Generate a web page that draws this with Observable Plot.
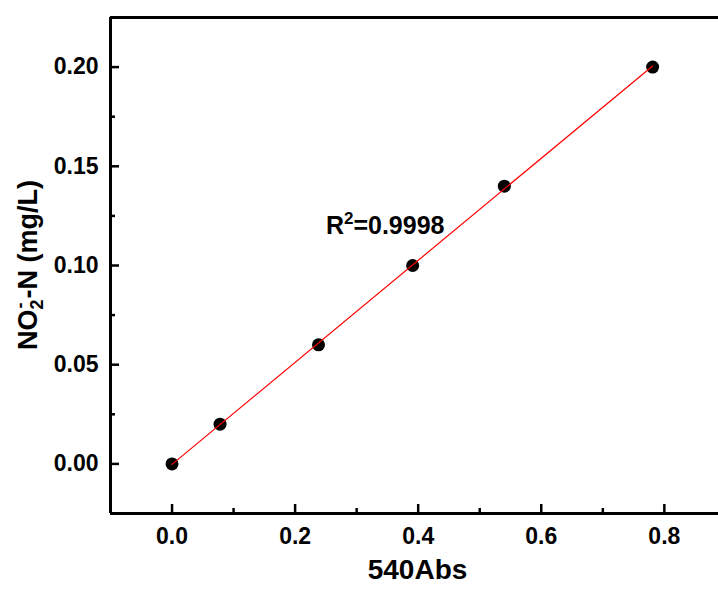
<!DOCTYPE html>
<html>
<head>
<meta charset="utf-8">
<script src="https://cdn.jsdelivr.net/npm/d3@7"></script>
<script src="https://cdn.jsdelivr.net/npm/@observablehq/plot@0.6"></script>
<style>
  html, body { margin: 0; padding: 0; background: #fff; }
  #chart svg { display: block; }
</style>
</head>
<body>
<div id="chart"></div>
<script>
// ---- data ----
const absorbance = [0, 0.078, 0.238, 0.391, 0.540, 0.781];
const concentration = [0, 0.02, 0.06, 0.10, 0.14, 0.20];

const xMajorTicks = [0, 0.2, 0.4, 0.6, 0.8];
const xMinorTicks = [0.1, 0.3, 0.5, 0.7];
const yMajorTicks = [0, 0.05, 0.10, 0.15, 0.20];
const yMinorTicks = [0.025, 0.075, 0.125, 0.175];

const xDomain = [-0.1, 0.888];
const yDomain = [-0.025, 0.225];

const xLabel = ["540Abs"];
const yLabelParts = ["NO", "2", "-", "-N (mg/L)"];
const annotation = [{x: 0.25, y: 0.12, base: "R", sup: "2", rest: "=0.9998"}];

const points = absorbance.map((a, i) => ({abs: a, conc: concentration[i]}));

const font = "'Liberation Sans', Arial, Helvetica, sans-serif";

const svg = Plot.plot({
  width: 718,
  height: 592,
  marginLeft: 110,
  marginRight: 0,
  marginTop: 17,
  marginBottom: 79,
  style: {fontFamily: font, background: "#fff", overflow: "visible"},
  x: {domain: xDomain, axis: null},
  y: {domain: yDomain, axis: null},
  marks: [
    // frame lines (left, top, bottom)
    Plot.ruleX([xDomain[0]], {stroke: "#000", strokeWidth: 3}),
    Plot.ruleY([yDomain[0]], {stroke: "#000", strokeWidth: 3}),
    Plot.ruleY([yDomain[1]], {stroke: "#000", strokeWidth: 3}),
    // inward ticks
    Plot.axisY({ticks: yMajorTicks, tickSize: 9, dx: 9, fill: "none", strokeWidth: 2.5, label: null}),
    Plot.axisY({ticks: yMinorTicks, tickSize: 5, dx: 5, fill: "none", strokeWidth: 2.5, label: null}),
    Plot.axisX({ticks: xMajorTicks, tickSize: 9, dy: -9, fill: "none", strokeWidth: 2.5, label: null}),
    Plot.axisX({ticks: xMinorTicks, tickSize: 5, dy: -5, fill: "none", strokeWidth: 2.5, label: null}),
    // tick labels
    Plot.axisY({ticks: yMajorTicks, tickSize: 0, tickPadding: 12, tickFormat: d3.format(".2f"),
      fontSize: 23, fontWeight: "bold", fill: "#000", label: null}),
    Plot.axisX({ticks: xMajorTicks, tickSize: 0, tickPadding: 14, tickFormat: d3.format(".1f"),
      fontSize: 23, fontWeight: "bold", fill: "#000", label: null}),
    // data
    Plot.dot(points, {x: "abs", y: "conc", r: 6.5, fill: "#000", stroke: "none"}),
    Plot.linearRegressionY(points, {x: "abs", y: "conc", stroke: "#ff0000", strokeWidth: 1.2, ci: 0}),
    // annotation
    Plot.text(annotation, {x: "x", y: "y", text: d => d.base + d.sup + d.rest, textAnchor: "start",
      lineAnchor: "middle", fontSize: 25, fontWeight: "bold", fill: "#000"}),
    // x axis title
    Plot.text(xLabel, {frameAnchor: "bottom", dx: 3, dy: 65, fontSize: 28, fontWeight: "bold", fill: "#000"})
  ]
});

// superscript in the annotation
d3.select(svg).selectAll("text").each(function() {
  const a = annotation[0];
  if (this.textContent === a.base + a.sup + a.rest) {
    const t = d3.select(this);
    t.text(null);
    t.append("tspan").text(a.base);
    t.append("tspan").attr("font-size", 17).attr("dy", -10).text(a.sup);
    t.append("tspan").attr("dy", 10).text(a.rest);
  }
});

// y axis title with subscript / superscript
const yl = d3.select(svg).append("text")
  .attr("transform", "translate(37,265) rotate(-90)")
  .attr("text-anchor", "middle")
  .attr("font-family", font)
  .attr("font-size", 27)
  .attr("font-weight", "bold")
  .attr("fill", "#000");
yl.append("tspan").text(yLabelParts[0]);
yl.append("tspan").attr("font-size", 18).attr("dy", 6).text(yLabelParts[1]);
yl.append("tspan").attr("font-size", 18).attr("dx", -9).attr("dy", -17).text(yLabelParts[2]);
yl.append("tspan").attr("dx", 4).attr("dy", 11).text(yLabelParts[3]);

document.getElementById("chart").appendChild(svg);
</script>
</body>
</html>
